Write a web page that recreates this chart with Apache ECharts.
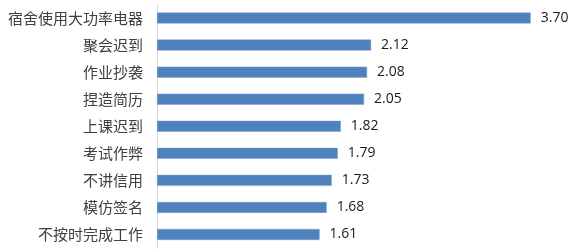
<!DOCTYPE html>
<html>
<head>
<meta charset="utf-8">
<script src="https://cdn.jsdelivr.net/npm/echarts@6/dist/echarts.min.js"></script>
<style>
  html, body { margin: 0; padding: 0; background: #fff; }
  #chart { width: 571px; height: 251px; }
</style>
</head>
<body>
<div id="chart"></div>
<script>
// 行为类别（从上到下）
const categories = ['宿舍使用大功率电器', '聚会迟到', '作业抄袭', '捏造简历', '上课迟到', '考试作弊', '不讲信用', '模仿签名', '不按时完成工作'];
const values = [3.70, 2.12, 2.08, 2.05, 1.82, 1.79, 1.73, 1.68, 1.61];

const chart = echarts.init(document.getElementById('chart'));

const option = {
    animation: false,
    grid: {
        left: 157,
        right: 10,
        top: 4.5,
        bottom: 3
    },
    xAxis: {
        type: 'value',
        min: 0,
        max: 4,
        show: false
    },
    yAxis: {
        type: 'category',
        data: categories,
        inverse: true,
        axisLine: { show: true, lineStyle: { color: '#d9d9d9', width: 1 } },
        axisTick: { show: false },
        axisLabel: {
            color: '#404040',
            fontSize: 15,
            margin: 14,
            fontFamily: 'Noto Sans CJK SC',
            fontWeight: 'normal'
        }
    },
    series: [
        {
            type: 'bar',
            data: values,
            barWidth: 11,
            itemStyle: { color: '#4f81bd', borderColor: '#7aa0d0', borderWidth: 0.5 },
            label: {
                show: true,
                position: 'right',
                distance: 10,
                color: '#1a1a1a',
                fontSize: 14,
                fontFamily: 'Open Sans',
                fontWeight: 'normal',
                formatter: (p) => p.value.toFixed(2)
            }
        }
    ]
};

chart.setOption(option);
</script>
</body>
</html>
